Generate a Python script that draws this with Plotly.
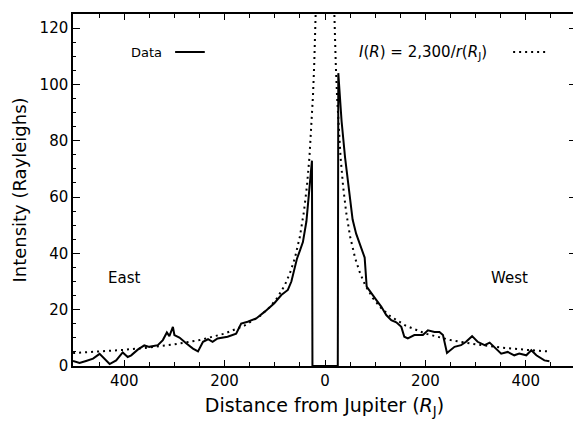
import plotly.graph_objects as go

# measured profile (east side has negative distance)
data_x = [-502, -489, -476, -462, -449, -439, -429, -416, -403, -393, -386, -373,
          -360, -350, -333, -323, -315, -310, -303, -300, -290, -276, -263, -253,
          -243, -233, -224, -214, -194, -177, -167, -154, -137, -120, -101, -87,
          -74, -67, -61, -56, -50, -44, -37, -31, -26, -25,
          25.5, 26.5, 29, 33, 40, 48, 55, 62, 72, 79, 83, 92, 102, 112, 122, 132,
          142, 152, 158, 165, 178, 195, 205, 218, 228, 235, 243, 258, 271, 281,
          293, 304, 318, 328, 341, 351, 364, 377, 387, 401, 411, 421, 437, 447]
data_y = [1.8, 1.1, 1.8, 2.6, 4.3, 2.6, 0.7, 2.0, 4.8, 3.2, 3.8, 5.8,
          7.3, 6.8, 7.4, 9.2, 11.9, 10.6, 13.9, 11.0, 10.1, 8.0, 6.2, 5.2,
          8.6, 9.5, 8.6, 9.8, 10.4, 11.5, 15.1, 15.7, 16.9, 19.3, 22.3, 25.2,
          27.0, 30.0, 34.8, 38.0, 41.0, 44.0, 51.4, 63.3, 72.9, 0,
          0, 104, 96, 87, 74, 61, 52, 47, 42, 38.5, 28.2, 25.8, 23.5, 21.1, 18.1, 16.3,
          15.5, 13.9, 10.4, 9.8, 11.0, 11.0, 12.7, 12.1, 12.1, 11.0, 4.6, 6.8, 7.4, 8.6,
          10.6, 8.6, 7.4, 8.3, 6.2, 4.4, 5.0, 3.8, 4.4, 3.8, 5.6, 3.8, 2.0, 1.7]

# model I(R) = 2300 / r
model_r = [17, 18.4, 19.5, 21.5, 24, 27, 31, 36, 42, 50, 60, 70, 80, 95, 110,
           130, 160, 200, 250, 300, 350, 400, 450, 502]
model_I = [135.3, 125.0, 117.9, 107.0, 95.8, 85.2, 74.2, 63.9, 54.8, 46.0, 38.3,
           32.9, 28.75, 24.2, 20.9, 17.7, 14.4, 11.5, 9.2, 7.67, 6.57, 5.75, 5.11, 4.58]

x_ticks = [-400, -200, 0, 200, 400]
x_labels = ["400", "200", "0", "200", "400"]
y_ticks = [0, 20, 40, 60, 80, 100, 120]

font = "DejaVu Sans"
fig = go.Figure()

west_r = [r for r in model_r if r <= 450]
west_I = model_I[:len(west_r)]
fig.add_trace(go.Scatter(x=[-r for r in model_r], y=model_I, mode="lines",
                         line=dict(color="black", width=2, dash="2px,4px"),
                         showlegend=False))
fig.add_trace(go.Scatter(x=west_r, y=west_I, mode="lines",
                         line=dict(color="black", width=2, dash="2px,4px"),
                         showlegend=False))
fig.add_trace(go.Scatter(x=data_x, y=data_y, mode="lines",
                         line=dict(color="black", width=2), showlegend=False))

axis_common = dict(showline=True, linecolor="black", linewidth=1.5, mirror="allticks",
                   ticks="inside", tickcolor="black", showgrid=False, zeroline=False,
                   automargin=False,
                   tickfont=dict(family=font, size=15, color="black"))

fig.update_xaxes(range=[-502, 500], tickmode="array", tickvals=x_ticks, ticktext=x_labels,
                 ticklen=6, tickwidth=1,
                 minor=dict(tickmode="linear", tick0=0, dtick=50, ticks="inside",
                            ticklen=4, tickcolor="black", showgrid=False),
                 title=dict(text="Distance from Jupiter (<i>R</i><sub>J</sub>)",
                            font=dict(family=font, size=19, color="black"), standoff=10),
                 **axis_common)
fig.update_yaxes(range=[0, 125], tickmode="array", tickvals=y_ticks,
                 ticklen=7, tickwidth=1,
                 minor=dict(tickmode="linear", tick0=0, dtick=5, ticks="inside",
                            ticklen=3, tickcolor="black", showgrid=False),
                 title=dict(text="Intensity (Rayleighs)",
                            font=dict(family=font, size=18, color="black"), standoff=8),
                 **axis_common)

# legend drawn as text + line sample, like the original figure
ann = dict(xref="paper", yref="paper", showarrow=False, xanchor="center", yanchor="middle")
fig.add_annotation(x=0.147, y=0.892, text="Data",
                   font=dict(family=font, size=13, color="black"), **ann)
fig.add_shape(type="line", xref="paper", yref="paper", x0=0.203, x1=0.262,
              y0=0.892, y1=0.892, line=dict(color="black", width=2))
fig.add_annotation(x=0.696, y=0.892,
                   text="<i>I</i>(<i>R</i>) = 2,300/<i>r</i>(<i>R</i><sub>J</sub>)",
                   font=dict(family=font, size=15, color="black"), **ann)
fig.add_shape(type="line", xref="paper", yref="paper", x0=0.875, x1=0.944,
              y0=0.892, y1=0.892, line=dict(color="black", width=2, dash="2px,4px"))
fig.add_annotation(x=0.101, y=0.25, text="East",
                   font=dict(family=font, size=15, color="black"), **ann)
fig.add_annotation(x=0.867, y=0.25, text="West",
                   font=dict(family=font, size=15, color="black"), **ann)

# the page body adds an 8px offset, so margins are trimmed to keep the plot box in place
fig.update_layout(width=573, height=416, margin=dict(l=65, r=5, t=6, b=58),
                  plot_bgcolor="white", paper_bgcolor="white")

fig.write_html("out.html")
